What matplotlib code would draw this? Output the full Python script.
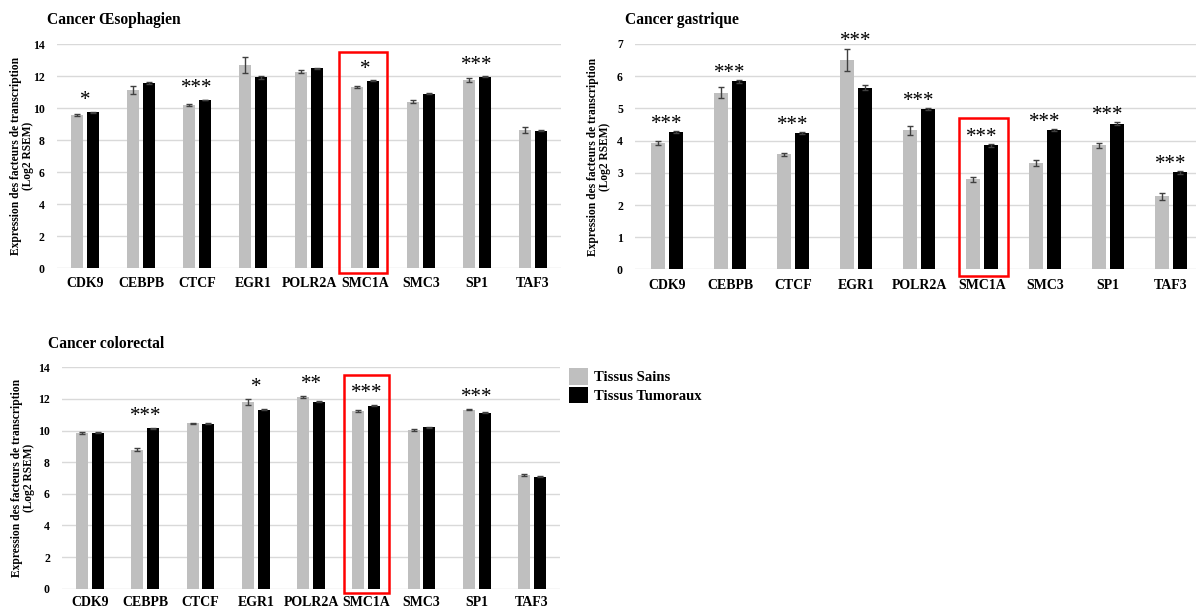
import numpy as np
import matplotlib.pyplot as plt
from matplotlib.patches import Rectangle, Patch

plt.rcParams['font.family'] = ['Liberation Serif', 'DejaVu Serif']

genes = ["CDK9", "CEBPB", "CTCF", "EGR1", "POLR2A", "SMC1A", "SMC3", "SP1", "TAF3"]

# Cancer oesophagien
eso_sain = [9.58, 11.15, 10.19, 12.71, 12.29, 11.31, 10.42, 11.77, 8.65]
eso_sain_err = [0.04, 0.27, 0.05, 0.48, 0.10, 0.07, 0.10, 0.10, 0.18]
eso_tum = [9.75, 11.56, 10.52, 11.94, 12.50, 11.71, 10.92, 11.96, 8.60]
eso_tum_err = [0.03, 0.07, 0.03, 0.08, 0.03, 0.03, 0.03, 0.03, 0.03]
eso_sig = ["*", "", "***", "", "", "*", "", "***", ""]

# Cancer gastrique
gas_sain = [3.93, 5.49, 3.57, 6.51, 4.33, 2.80, 3.30, 3.86, 2.27]
gas_sain_err = [0.05, 0.17, 0.05, 0.35, 0.14, 0.08, 0.10, 0.08, 0.11]
gas_tum = [4.27, 5.84, 4.25, 5.64, 4.97, 3.85, 4.33, 4.53, 3.02]
gas_tum_err = [0.03, 0.05, 0.03, 0.08, 0.03, 0.04, 0.04, 0.04, 0.04]
gas_sig = ["***"] * 9

# Cancer colorectal
col_sain = [9.85, 8.80, 10.46, 11.79, 12.13, 11.22, 10.04, 11.31, 7.18]
col_sain_err = [0.04, 0.10, 0.04, 0.20, 0.08, 0.07, 0.04, 0.04, 0.06]
col_tum = [9.87, 10.15, 10.42, 11.33, 11.83, 11.56, 10.21, 11.12, 7.07]
col_tum_err = [0.03, 0.03, 0.03, 0.05, 0.03, 0.03, 0.03, 0.03, 0.03]
col_sig = ["", "***", "", "*", "**", "***", "", "***", ""]

GRAY = "#bfbfbf"
W, H = 1196, 608


def px_axes(fig, left, right, top, bottom):
    return fig.add_axes([left / W, 1 - bottom / H, (right - left) / W, (bottom - top) / H])


def draw_panel(ax, sain, sain_err, tum, tum_err, sig, ymax, ystep, star_off, box, label_x, xpad):
    x = np.arange(len(genes))
    width = 0.215
    off = 0.143
    ek = dict(ecolor="#404040", elinewidth=1, capsize=2.5, capthick=1)
    ax.bar(x - off, sain, width, yerr=sain_err, color=GRAY, error_kw=ek, zorder=3)
    ax.bar(x + off, tum, width, yerr=tum_err, color="black", error_kw=ek, zorder=3)
    ax.set_xlim(-0.5, len(genes) - 0.5)
    ax.set_ylim(0, ymax)
    ticks = np.arange(0, ymax + 0.01, ystep)
    ax.set_yticks(ticks)
    ax.set_yticklabels([str(int(v)) for v in ticks], fontsize=8.5, fontweight="bold")
    ax.set_xticks(x)
    ax.set_xticklabels(genes, fontsize=10, fontweight="bold")
    ax.tick_params(length=0, axis="y", pad=9)
    ax.tick_params(length=0, axis="x", pad=xpad)
    ax.grid(axis="y", color="#d9d9d9", linewidth=1, zorder=0)
    ax.set_axisbelow(True)
    for s in ax.spines.values():
        s.set_visible(False)
    tops = np.maximum(np.array(sain) + sain_err, np.array(tum) + tum_err)
    for i, s in enumerate(sig):
        if s:
            ax.annotate(s, (x[i], tops[i]), xytext=(0, star_off), textcoords="offset points",
                        ha="center", va="baseline", fontsize=15, annotation_clip=False)
    # red box around SMC1A
    i0, half, y0, y1 = box
    ax.add_patch(Rectangle((i0 - half, y0), 2 * half, y1 - y0, fill=False,
                           edgecolor="red", linewidth=1.8, clip_on=False, zorder=5))
    bb = ax.get_position()
    ax.text(label_x / W, bb.y0 + bb.height / 2,
            "Expression des facteurs de transcription\n(Log2 RSEM)",
            transform=fig.transFigure, rotation=90, ha="center", va="center",
            fontsize=8.3, fontweight="bold", linespacing=1.1)


fig = plt.figure(figsize=(W / 100, H / 100), dpi=100)

ax1 = px_axes(fig, 57, 561, 44.3, 268.3)
draw_panel(ax1, eso_sain, eso_sain_err, eso_tum, eso_tum_err, eso_sig,
           14, 2, 5, (4.96, 0.43, -0.27, 13.54), 22, 6.5)

ax2 = px_axes(fig, 635.5, 1202.5, 44, 269.5)
draw_panel(ax2, gas_sain, gas_sain_err, gas_tum, gas_tum_err, gas_sig,
           7, 1, 1.5, (5.02, 0.39, -0.21, 4.70), 599, 6.5)

ax3 = px_axes(fig, 62.4, 559.6, 367.3, 588.7)
draw_panel(ax3, col_sain, col_sain_err, col_tum, col_tum_err, col_sig,
           14, 2, 5, (5.0, 0.41, -0.28, 13.54), 23, 5)

fig.text(47 / W, 1 - 19.5 / H, "Cancer Œsophagien", fontsize=11.2, fontweight="bold", va="center")
fig.text(625 / W, 1 - 20 / H, "Cancer gastrique", fontsize=11.2, fontweight="bold", va="center")
fig.text(47.5 / W, 1 - 344 / H, "Cancer colorectal", fontsize=11.2, fontweight="bold", va="center")

handles = [Patch(facecolor=GRAY, edgecolor="none"), Patch(facecolor="black", edgecolor="none")]
fig.legend(handles, ["Tissus Sains", "Tissus Tumoraux"], loc="upper left",
           bbox_to_anchor=(559 / W, 1 - 358 / H), frameon=False,
           prop=dict(size=10.5, weight="bold"), handlelength=1.3, handleheight=1.35,
           handletextpad=0.4, labelspacing=0.15, borderpad=0.2)

fig.savefig("out.png", dpi=100)
